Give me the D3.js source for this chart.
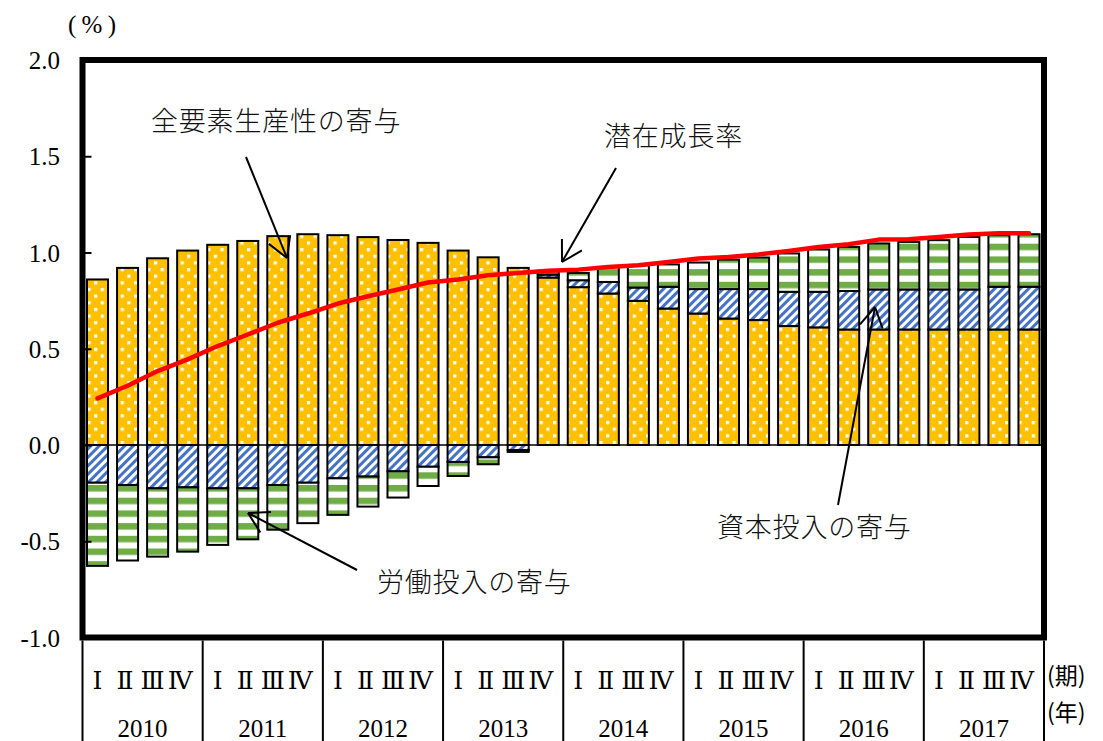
<!DOCTYPE html>
<html>
<head>
<meta charset="utf-8">
<script src="https://cdn.jsdelivr.net/npm/d3@7"></script>
<style>
  html, body { margin: 0; padding: 0; background: #fff; }
  svg { display: block; }
</style>
</head>
<body>
<svg id="chart" width="1103" height="741"></svg>
<script>
// Quarterly contributions to potential growth (%), 2010 Q1 – 2017 Q4
const years = ["2010", "2011", "2012", "2013", "2014", "2015", "2016", "2017"];
const quarterLabels = ["Ⅰ", "Ⅱ", "Ⅲ", "Ⅳ"];

// Total factor productivity contribution
const tfp = [0.86, 0.92, 0.97, 1.01, 1.04, 1.06, 1.085, 1.095,
             1.09, 1.08, 1.065, 1.05, 1.01, 0.975, 0.92, 0.87,
             0.82, 0.787, 0.749, 0.709, 0.683, 0.657, 0.649, 0.618,
             0.611, 0.60, 0.60, 0.60, 0.60, 0.60, 0.60, 0.60];
// Capital input contribution
const capital = [-0.196, -0.208, -0.225, -0.22, -0.225, -0.225, -0.208, -0.196,
                 -0.173, -0.164, -0.137, -0.113, -0.088, -0.064, -0.026, 0.015,
                 0.036, 0.06, 0.069, 0.113, 0.127, 0.153, 0.161, 0.178,
                 0.185, 0.20, 0.208, 0.208, 0.208, 0.208, 0.222, 0.222];
// Labour input contribution
const labor = [-0.432, -0.392, -0.355, -0.334, -0.294, -0.265, -0.232, -0.21,
               -0.19, -0.156, -0.136, -0.10, -0.073, -0.036, -0.01, 0.02,
               0.038, 0.078, 0.116, 0.116, 0.138, 0.153, 0.164, 0.199,
               0.22, 0.229, 0.239, 0.247, 0.256, 0.273, 0.268, 0.273];
// Potential growth rate
const potential = [0.242, 0.308, 0.384, 0.445, 0.514, 0.574, 0.635, 0.683,
                   0.735, 0.773, 0.808, 0.844, 0.86, 0.882, 0.894, 0.905,
                   0.911, 0.925, 0.934, 0.951, 0.969, 0.977, 0.99, 1.008,
                   1.029, 1.043, 1.067, 1.069, 1.081, 1.093, 1.10, 1.10];

const yTicks = [2.0, 1.5, 1.0, 0.5, 0.0, -0.5, -1.0];

const periods = [];
years.forEach(yr => quarterLabels.forEach((q, qi) => periods.push({ year: yr, q: qi, key: yr + "-" + (qi + 1) })));
const rows = periods.map((p, i) => ({ key: p.key, tfp: tfp[i], capital: capital[i], labor: labor[i] }));

const svg = d3.select("#chart");
const plotL = 82.5, plotR = 1044, plotT = 60, plotB = 637.5;

const x = d3.scaleBand().domain(periods.map(p => p.key)).range([plotL, plotR]).paddingInner(0.3).paddingOuter(0.15);
const xYear = d3.scaleBand().domain(years).range([plotL, plotR]);
const y = d3.scaleLinear().domain([-1, 2]).range([plotB, plotT]);

const serif = "'Liberation Serif', 'DejaVu Serif', serif";
const jp = "'Noto Sans CJK JP', 'Noto Sans CJK SC', sans-serif";

// ---- fill patterns ----
const defs = svg.append("defs");
const dots = defs.append("pattern").attr("id", "pat-tfp").attr("patternUnits", "userSpaceOnUse")
  .attr("width", 13.3).attr("height", 13.3).attr("x", 1).attr("y", 2);
dots.append("rect").attr("width", 13.3).attr("height", 13.3).attr("fill", "#FFC000");
dots.append("rect").attr("x", 0).attr("y", 0).attr("width", 3.2).attr("height", 3.2).attr("fill", "#fff");
dots.append("rect").attr("x", 6.65).attr("y", 6.65).attr("width", 3.2).attr("height", 3.2).attr("fill", "#fff");

const diag = defs.append("pattern").attr("id", "pat-cap").attr("patternUnits", "userSpaceOnUse")
  .attr("width", 6).attr("height", 6).attr("patternTransform", "rotate(45)");
diag.append("rect").attr("width", 6).attr("height", 6).attr("fill", "#fff");
diag.append("rect").attr("width", 3).attr("height", 6).attr("fill", "#4472C4");

const horiz = defs.append("pattern").attr("id", "pat-lab").attr("patternUnits", "userSpaceOnUse")
  .attr("width", 12.7).attr("height", 12.7).attr("y", 2.4);
horiz.append("rect").attr("width", 12.7).attr("height", 12.7).attr("fill", "#fff");
horiz.append("rect").attr("width", 12.7).attr("height", 6.5).attr("fill", "#70AD47");

// ---- stacked bars ----
const stack = d3.stack().keys(["tfp", "capital", "labor"]).offset(d3.stackOffsetDiverging);
const series = stack(rows);
const fills = { tfp: "url(#pat-tfp)", capital: "url(#pat-cap)", labor: "url(#pat-lab)" };

// zero line
svg.append("line").attr("x1", plotL).attr("x2", plotR).attr("y1", y(0)).attr("y2", y(0))
  .attr("stroke", "#000").attr("stroke-width", 1.5);

svg.append("g").selectAll("g").data(series).join("g")
  .attr("fill", s => fills[s.key])
  .selectAll("rect").data(s => s.filter(d => Math.abs(d[1] - d[0]) > 1e-9)).join("rect")
  .attr("x", d => x(d.data.key))
  .attr("width", x.bandwidth())
  .attr("y", d => y(Math.max(d[0], d[1])))
  .attr("height", d => Math.abs(y(d[0]) - y(d[1])))
  .attr("stroke", "#000").attr("stroke-width", 2);

// ---- potential growth line ----
const line = d3.line().x((d, i) => x(periods[i].key) + x.bandwidth() / 2).y(d => y(d));
svg.append("path").datum(potential).attr("d", line)
  .attr("fill", "none").attr("stroke", "#FF0000").attr("stroke-width", 4.5)
  .attr("stroke-linejoin", "round").attr("stroke-linecap", "round");

// ---- frame and y axis ----
svg.append("rect").attr("x", plotL).attr("y", plotT).attr("width", plotR - plotL).attr("height", plotB - plotT)
  .attr("fill", "none").attr("stroke", "#000").attr("stroke-width", 6);

const yAxis = d3.axisRight(y).tickValues(yTicks).tickSize(9).tickFormat("");
const yg = svg.append("g").attr("transform", `translate(${plotL},0)`).call(yAxis);
yg.select(".domain").remove();
yg.selectAll(".tick line").attr("stroke", "#000").attr("stroke-width", 2);

svg.append("g").selectAll("text").data(yTicks).join("text")
  .attr("x", 60).attr("y", d => y(d)).attr("dy", "0.36em")
  .attr("text-anchor", "end").attr("font-family", serif).attr("font-size", 25)
  .text(d => d3.format(".1f")(d).replace("−", "-"));

svg.append("text").attr("x", 68).attr("y", 33).attr("font-family", serif).attr("font-size", 25)
  .attr("textLength", 48).text("(%)");

// ---- period / year axis below the frame ----
const axisTop = plotB + 3;
svg.append("g").selectAll("line").data(years.concat(["end"])).join("line")
  .attr("x1", (d, i) => plotL + i * xYear.bandwidth())
  .attr("x2", (d, i) => plotL + i * xYear.bandwidth())
  .attr("y1", axisTop).attr("y2", 741)
  .attr("stroke", "#000").attr("stroke-width", 2);

svg.append("g").selectAll("text").data(periods).join("text")
  .attr("x", p => x(p.key) + x.bandwidth() / 2 - p.q * 2.5)
  .attr("y", 689).attr("text-anchor", "middle")
  .attr("font-family", serif).attr("font-size", 25)
  .text(p => quarterLabels[p.q]);

svg.append("g").selectAll("text").data(years).join("text")
  .attr("x", d => xYear(d) + xYear.bandwidth() / 2).attr("y", 737).attr("text-anchor", "middle")
  .attr("font-family", serif).attr("font-size", 25).text(d => d);

svg.append("text").attr("x", 1047).attr("y", 684).attr("font-family", jp).attr("font-size", 23).text("(期)");
svg.append("text").attr("x", 1047).attr("y", 721).attr("font-family", jp).attr("font-size", 23).text("(年)");

// ---- annotations ----
function arrow(x1, y1, x2, y2) {
  const g = svg.append("g").attr("stroke", "#000").attr("stroke-width", 2).attr("fill", "none");
  g.append("line").attr("x1", x1).attr("y1", y1).attr("x2", x2).attr("y2", y2);
  const ang = Math.atan2(y1 - y2, x1 - x2);
  const len = 23, spread = Math.PI / 6;
  [ang - spread, ang + spread].forEach(a => {
    g.append("line").attr("x1", x2).attr("y1", y2)
      .attr("x2", x2 + len * Math.cos(a)).attr("y2", y2 + len * Math.sin(a));
  });
}

const notes = [
  { text: "全要素生産性の寄与", x: 151, y: 131, from: [246, 157], to: [287, 258] },
  { text: "潜在成長率", x: 604, y: 146, from: [616, 168], to: [562, 262] },
  { text: "資本投入の寄与", x: 717, y: 537, from: [838, 505], to: [875, 307] },
  { text: "労働投入の寄与", x: 377, y: 592, from: [357, 570], to: [248, 513] }
];
notes.forEach(n => {
  svg.append("text").attr("x", n.x).attr("y", n.y).attr("font-family", jp).attr("font-size", 27)
    .attr("font-weight", 300).attr("letter-spacing", 0.8).attr("fill", "#111").text(n.text);
  arrow(n.from[0], n.from[1], n.to[0], n.to[1]);
});
</script>
</body>
</html>
